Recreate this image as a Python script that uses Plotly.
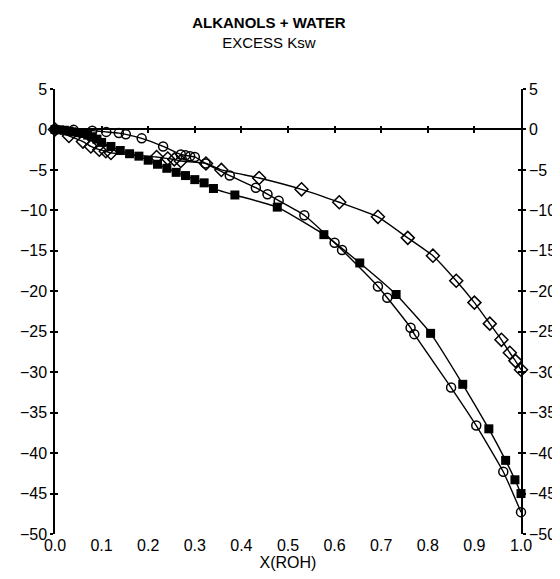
import plotly.graph_objects as go

# ---- data ----
sq_x = [0.0, 0.01, 0.02, 0.03, 0.04, 0.05, 0.06, 0.07, 0.08, 0.09, 0.10, 0.12, 0.14,
        0.16, 0.18, 0.20, 0.22, 0.24, 0.26, 0.28, 0.30, 0.32, 0.34, 0.386, 0.477,
        0.577, 0.654, 0.732, 0.806, 0.875, 0.931, 0.967, 0.987, 1.0]
sq_y = [0.0, -0.05, -0.1, -0.2, -0.3, -0.4, -0.5, -0.7, -0.9, -1.2, -1.6, -2.1, -2.6,
        -3.0, -3.3, -3.8, -4.3, -4.8, -5.3, -5.7, -6.2, -6.6, -7.3, -8.1, -9.6,
        -13.0, -16.5, -20.4, -25.2, -31.5, -37.0, -40.9, -43.3, -45.0]

ci_x = [0.0, 0.04, 0.08, 0.11, 0.137, 0.152, 0.186, 0.232, 0.27, 0.28, 0.29, 0.30,
        0.323, 0.375, 0.431, 0.456, 0.48, 0.535, 0.60, 0.616, 0.693, 0.713, 0.763,
        0.771, 0.85, 0.904, 0.962, 1.0]
ci_y = [0.0, -0.05, -0.15, -0.3, -0.45, -0.6, -1.1, -2.1, -3.1, -3.2, -3.3, -3.4,
        -4.2, -5.7, -7.2, -8.0, -8.8, -10.6, -14.0, -14.9, -19.4, -20.8, -24.5,
        -25.3, -31.9, -36.6, -42.3, -47.3]

di_x = [0.0, 0.03, 0.06, 0.077, 0.095, 0.109, 0.12, 0.218, 0.242, 0.256, 0.27,
        0.324, 0.357, 0.438, 0.529, 0.61, 0.693, 0.757, 0.811, 0.861, 0.90, 0.933,
        0.958, 0.976, 0.988, 1.0]
di_y = [0.0, -0.8, -1.5, -2.1, -2.5, -2.7, -2.9, -3.4, -3.6, -3.7, -3.9, -4.2,
        -5.0, -6.0, -7.4, -9.0, -10.8, -13.4, -15.6, -18.7, -21.4, -24.0, -26.0,
        -27.6, -28.6, -29.7]

x_ticks = [i / 10 for i in range(11)]
x_ticktext = ["0.0", "0.1", "0.2", "0.3", "0.4", "0.5", "0.6", "0.7", "0.8", "0.9", "1.0"]
inner_x_ticks = x_ticks[1:-1]
y_ticks = list(range(-50, 6, 5))

FONT = "Liberation Sans, Arial, sans-serif"
BLACK = "#000000"
Y_RANGE = [-50, 5]

fig = go.Figure()

line_style = dict(color=BLACK, width=1.4, shape="spline", smoothing=0.4)
fig.add_trace(go.Scatter(x=di_x, y=di_y, mode="lines+markers", line=line_style,
                         marker=dict(symbol="diamond-open", size=10, color=BLACK,
                                     line=dict(width=1.5, color=BLACK)),
                         showlegend=False, cliponaxis=False))
fig.add_trace(go.Scatter(x=ci_x, y=ci_y, mode="lines+markers", line=line_style,
                         marker=dict(symbol="circle-open", size=9, color=BLACK,
                                     line=dict(width=1.5, color=BLACK)),
                         showlegend=False, cliponaxis=False))
fig.add_trace(go.Scatter(x=sq_x, y=sq_y, mode="lines+markers", line=line_style,
                         marker=dict(symbol="square", size=9, color=BLACK),
                         showlegend=False, cliponaxis=False))

# invisible helper traces so the overlay axes are drawn
for xa, ya in [("x", "y2"), ("x2", "y3"), ("x3", "y4")]:
    fig.add_trace(go.Scatter(x=x_ticks, y=[None] * len(x_ticks), xaxis=xa, yaxis=ya,
                             mode="lines", showlegend=False, hoverinfo="skip"))

tickfont = dict(family=FONT, size=16, color=BLACK)

fig.update_layout(
    width=560, height=579,
    paper_bgcolor="white", plot_bgcolor="white",
    margin=dict(l=43, r=41, t=81, b=53),
    font=dict(family=FONT, color=BLACK),
    title=dict(text="<b>ALKANOLS + WATER</b><br>EXCESS Ksw",
               font=dict(family=FONT, size=15, color=BLACK),
               x=0.466, xref="container", xanchor="center",
               y=1 - 20 / 579, yref="container", yanchor="top"),
    xaxis=dict(range=[0, 1], tickvals=x_ticks, ticktext=x_ticktext, ticks="",
               showline=False, showgrid=False, zeroline=False, tickfont=tickfont,
               title=dict(text="X(ROH)", font=dict(family=FONT, size=16, color=BLACK),
                          standoff=2)),
    xaxis2=dict(range=[0, 1], overlaying="x", anchor="free", position=50 / 55,
                showline=True, linecolor=BLACK, linewidth=1.5, ticks="outside",
                ticklen=3, tickwidth=1.5, tickcolor=BLACK, tickvals=inner_x_ticks,
                showticklabels=False, showgrid=False, zeroline=False),
    xaxis3=dict(range=[0, 1], overlaying="x", anchor="free", position=50 / 55,
                showline=False, ticks="inside", ticklen=3, tickwidth=1.5,
                tickcolor=BLACK, tickvals=inner_x_ticks, showticklabels=False,
                showgrid=False, zeroline=False),
    yaxis=dict(range=Y_RANGE, tickvals=y_ticks, side="left", showline=True,
               linecolor=BLACK, linewidth=1.5, ticks="outside", ticklen=3,
               tickwidth=1.5, tickcolor=BLACK, showgrid=False, zeroline=False,
               tickfont=tickfont, ticklabelstandoff=0),
    yaxis2=dict(range=Y_RANGE, tickvals=y_ticks, overlaying="y", side="right",
                anchor="x", showline=True, linecolor=BLACK, linewidth=1.5,
                ticks="outside", ticklen=3, tickwidth=1.5, tickcolor=BLACK,
                showgrid=False, zeroline=False, tickfont=tickfont,
                ticklabelstandoff=0),
    yaxis3=dict(range=Y_RANGE, tickvals=y_ticks, overlaying="y", side="left",
                anchor="x", ticks="inside", ticklen=3, tickwidth=1.5, tickcolor=BLACK,
                showticklabels=False, showline=False, showgrid=False, zeroline=False),
    yaxis4=dict(range=Y_RANGE, tickvals=y_ticks, overlaying="y", side="right",
                anchor="x", ticks="inside", ticklen=3, tickwidth=1.5, tickcolor=BLACK,
                showticklabels=False, showline=False, showgrid=False, zeroline=False),
)

fig.write_html("out.html")
